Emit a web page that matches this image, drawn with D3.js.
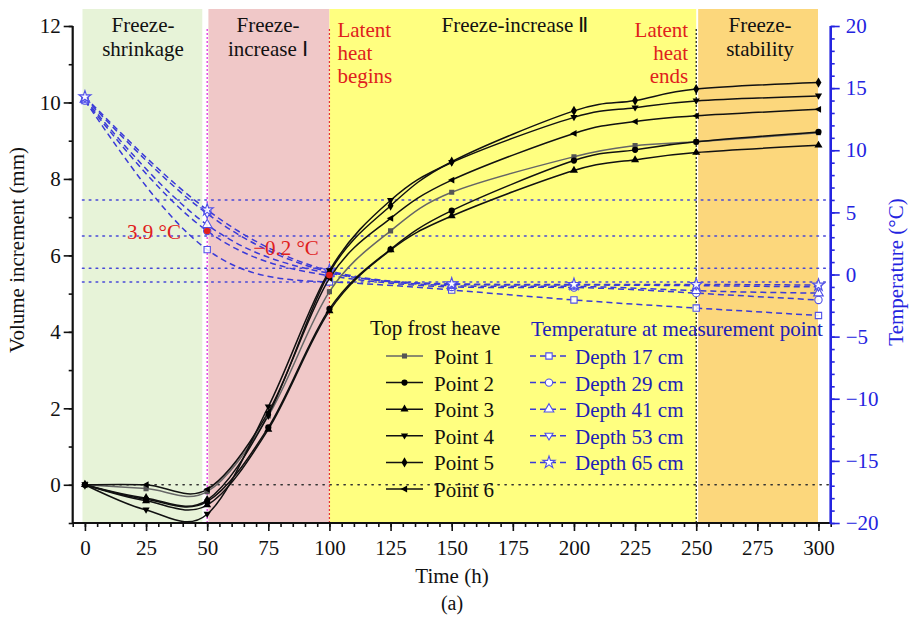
<!DOCTYPE html>
<html><head><meta charset="utf-8">
<script src="https://cdn.jsdelivr.net/npm/d3@7"></script>
<style>body{margin:0;background:#fff}svg{display:block}text{font-family:"Liberation Serif","Times New Roman",Times,serif}</style>
</head><body>
<svg id="c" width="909" height="620"></svg>
<script>
// ---------- data ----------
const heaveTimes = [0, 25, 50, 75, 100, 125, 150, 200, 225, 250, 300];
const point1 = [0, -0.10, -0.18, 1.80, 5.05, 6.64, 7.65, 8.58, 8.87, 8.97, 9.21];
const point2 = [0, -0.38, -0.44, 1.50, 4.60, 6.16, 7.17, 8.48, 8.76, 8.97, 9.23];
const point3 = [0, -0.42, -0.53, 1.45, 4.55, 6.14, 7.03, 8.22, 8.50, 8.69, 8.88];
const point4 = [0, -0.66, -0.77, 2.04, 5.60, 7.44, 8.43, 9.61, 9.86, 10.04, 10.17];
const point5 = [0, -0.35, -0.40, 1.83, 5.55, 7.30, 8.45, 9.78, 10.05, 10.35, 10.52];
const point6 = [0, 0.00, -0.12, 1.90, 5.40, 6.97, 7.97, 9.19, 9.50, 9.65, 9.82];
const heaveNames = ["Point 1", "Point 2", "Point 3", "Point 4", "Point 5", "Point 6"];

const tempTimes = [0, 50, 100, 150, 200, 250, 300];
const depth17 = [14.0, 2.0, -0.6, -1.25, -2.05, -2.7, -3.3];
const depth29 = [14.0, 3.5, -0.1, -1.0, -1.05, -1.5, -2.05];
const depth41 = [14.1, 4.0, 0.1, -0.9, -0.95, -1.3, -1.5];
const depth53 = [14.2, 4.9, 0.2, -0.8, -0.85, -0.9, -1.0];
const depth65 = [14.3, 5.2, 0.3, -0.75, -0.8, -0.8, -0.85];
const depthNames = ["Depth 17 cm", "Depth 29 cm", "Depth 41 cm", "Depth 53 cm", "Depth 65 cm"];

const stageNames = [["Freeze-", "shrinkage"], ["Freeze-", "increase \u2160"], ["Freeze-increase \u2161"], ["Freeze-", "stability"]];
const stageStart = [-1, 50.5, 100, 250.8];
const stageEnd = [48, 100, 250, 299.8];
const latentTimes = [50, 100, 250];
const refTemps = [6.0, 3.1, 0.5, -0.6];
const markTimes = [50, 100];
const markTemps = [3.5, -0.05];
const markLabels = ["3.9 \u00B0C", "\u22120.2 \u00B0C"];

const xTicks = [0, 25, 50, 75, 100, 125, 150, 175, 200, 225, 250, 275, 300];
const yTicks = [0, 2, 4, 6, 8, 10, 12];
const tTicks = [-20, -15, -10, -5, 0, 5, 10, 15, 20];

// ---------- setup ----------
const svg = d3.select("#c");
const L = 72.7, R = 830.7, T = 26, B = 523;
const x = d3.scaleLinear([-5, 305], [L, R]);
const y = d3.scaleLinear([-1, 12], [B, T]);
const yT = d3.scaleLinear([-20, 20], [B, T]);
const FS = 21;
const blue = "#2424e0", tblue = "#3a3ad8", red = "#e0201c";

// stage bands
const bandFill = ["#e7f3d8", "#f0c8c8", "#ffff80", "#fcd77c"];
svg.append("g").selectAll("rect").data(stageStart).join("rect")
  .attr("x", (d) => x(d)).attr("width", (d, i) => x(stageEnd[i]) - x(d))
  .attr("y", T - 17).attr("height", (d) => B - T + 17)
  .attr("fill", (d, i) => bandFill[i]);

// reference lines
svg.append("g").selectAll("line").data(refTemps).join("line")
  .attr("x1", x(-1)).attr("x2", R).attr("y1", (d) => yT(d)).attr("y2", (d) => yT(d))
  .attr("stroke", "#4848d8").attr("stroke-width", 1.6).attr("stroke-dasharray", "1.6,5.2").attr("stroke-linecap", "round");
svg.append("line").attr("x1", x(0)).attr("x2", R).attr("y1", y(0)).attr("y2", y(0))
  .attr("stroke", "#333").attr("stroke-width", 1.4).attr("stroke-dasharray", "1.4,5.6").attr("stroke-linecap", "round");
const vColors = ["#e020e0", "#e83030", "#111"];
svg.append("g").selectAll("line").data(latentTimes).join("line")
  .attr("x1", (d) => x(d)).attr("x2", (d) => x(d)).attr("y1", T + 3).attr("y2", B)
  .attr("stroke", (d, i) => vColors[i]).attr("stroke-width", 1.2).attr("stroke-dasharray", "2,2");

// clip
svg.append("clipPath").attr("id", "clip").append("rect").attr("x", L).attr("y", T - 17).attr("width", R - L).attr("height", B - T + 17);

// symbols
const sym = (type, size) => d3.symbol(type, size)();
const heaveSymbols = [
  sym(d3.symbolSquare, 26), sym(d3.symbolCircle, 30), sym(d3.symbolTriangle, 28),
  "M-3.6,-2.4L3.6,-2.4L0,3.8Z", sym(d3.symbolDiamond, 30), "M-3.8,0L2.6,-3.4L2.6,3.4Z"
];
const tempSymbols = [
  sym(d3.symbolSquare, 40), sym(d3.symbolCircle, 42), sym(d3.symbolTriangle, 40),
  "M-4,-2.6L4,-2.6L0,4.2Z", sym(d3.symbolStar, 46)
];

// temperature curves
const tempSeries = [depth17, depth29, depth41, depth53, depth65];
const tLine = d3.line().x((d, i) => x(tempTimes[i])).y((d) => yT(d)).curve(d3.curveNatural);
const gT = svg.append("g").attr("clip-path", "url(#clip)");
tempSeries.forEach((s, k) => {
  gT.append("path").attr("d", tLine(s)).attr("fill", "none").attr("stroke", tblue)
    .attr("stroke-width", 1.5).attr("stroke-dasharray", "6,4");
});
tempSeries.forEach((s, k) => {
  gT.append("g").selectAll("path").data(s).join("path")
    .attr("d", tempSymbols[k]).attr("transform", (d, i) => `translate(${x(tempTimes[i])},${yT(d)})`)
    .attr("fill", "#fff").attr("fill-opacity", 0.85).attr("stroke", "#5050e8").attr("stroke-width", 1.1);
});

// heave curves
const heaveSeries = [point1, point2, point3, point4, point5, point6];
const hColors = ["#666", "#111", "#111", "#111", "#111", "#111"];
const hLine = d3.line().x((d, i) => x(heaveTimes[i])).y((d) => y(d)).curve(d3.curveCardinal.tension(0));
const gH = svg.append("g").attr("clip-path", "url(#clip)");
heaveSeries.forEach((s, k) => {
  gH.append("path").attr("d", hLine(s)).attr("fill", "none").attr("stroke", hColors[k]).attr("stroke-width", 1.5);
});
heaveSeries.forEach((s, k) => {
  gH.append("g").selectAll("path").data(s).join("path")
    .attr("d", heaveSymbols[k]).attr("transform", (d, i) => `translate(${x(heaveTimes[i])},${y(d)})`)
    .attr("fill", hColors[k] === "#666" ? "#555" : "#000");
});

// red marks
svg.append("g").selectAll("circle").data(markTemps).join("circle")
  .attr("cx", (d, i) => x(markTimes[i])).attr("cy", (d) => yT(d)).attr("r", 3.3).attr("fill", red);
const markPos = [[154, 239], [286, 255]];
svg.append("g").selectAll("text").data(markLabels).join("text")
  .attr("x", (d, i) => markPos[i][0]).attr("y", (d, i) => markPos[i][1])
  .attr("text-anchor", "middle").attr("font-size", FS).attr("fill", red).text((d) => d);

// stage labels
const stageX = [143, 268, 515, 760];
stageNames.forEach((lines, i) => {
  const t = svg.append("text").attr("text-anchor", "middle").attr("font-size", FS).attr("fill", "#111");
  lines.forEach((ln, j) => t.append("tspan").attr("x", stageX[i]).attr("y", 31.5 + j * 24).text(ln));
});
const lat1 = svg.append("text").attr("font-size", FS).attr("fill", red);
["Latent", "heat", "begins"].forEach((ln, j) => lat1.append("tspan").attr("x", x(100) + 8).attr("y", 37 + j * 23).text(ln));
const lat2 = svg.append("text").attr("font-size", FS).attr("fill", red).attr("text-anchor", "end");
["Latent", "heat", "ends"].forEach((ln, j) => lat2.append("tspan").attr("x", x(250) - 8).attr("y", 37 + j * 23).text(ln));

// axes
const minorX = d3.range(-5, 306, 5), minorY = d3.range(-1, 12.01, 1), minorT = d3.range(-20, 20.01, 1);
function styleAxis(g, color) {
  g.attr("font-family", null);
  g.select(".domain").remove();
  g.selectAll("line").attr("stroke", color).attr("stroke-width", 1.6);
  g.selectAll("text").attr("font-size", FS).attr("fill", color);
}
const gx = svg.append("g").attr("transform", `translate(0,${B})`);
gx.append("g").call(d3.axisBottom(x).tickValues(minorX).tickSize(4).tickFormat("")).call(styleAxis, "#111");
gx.append("g").call(d3.axisBottom(x).tickValues(xTicks).tickSize(8).tickPadding(9).tickFormat(d3.format("d"))).call(styleAxis, "#111");
gx.append("line").attr("x1", L).attr("x2", R).attr("stroke", "#111").attr("stroke-width", 2.2);

const gy = svg.append("g").attr("transform", `translate(${L},0)`);
gy.append("g").call(d3.axisLeft(y).tickValues(minorY).tickSize(4).tickFormat("")).call(styleAxis, "#111");
gy.append("g").call(d3.axisLeft(y).tickValues(yTicks).tickSize(9).tickPadding(3).tickFormat(d3.format("d"))).call(styleAxis, "#111");
gy.append("line").attr("y1", T).attr("y2", B + 1).attr("stroke", "#111").attr("stroke-width", 2.2);

const fmtT = (d) => (d < 0 ? "\u2212" + Math.abs(d) : "" + d);
const gr = svg.append("g").attr("transform", `translate(${R},0)`);
gr.append("g").call(d3.axisRight(yT).tickValues(minorT).tickSize(4).tickFormat("")).call(styleAxis, blue);
gr.append("g").call(d3.axisRight(yT).tickValues(tTicks).tickSize(9).tickPadding(6).tickFormat(fmtT)).call(styleAxis, blue);
gr.append("line").attr("y1", T).attr("y2", B + 1).attr("stroke", blue).attr("stroke-width", 2.6);

// axis titles
svg.append("text").attr("transform", "translate(24,250) rotate(-90)").attr("text-anchor", "middle")
  .attr("font-size", FS).attr("fill", "#111").text("Volume increment (mm)");
svg.append("text").attr("transform", "translate(903,272) rotate(-90)").attr("text-anchor", "middle")
  .attr("font-size", FS).attr("fill", blue).text("Temperature (\u00B0C)");
svg.append("text").attr("x", 452).attr("y", 583).attr("text-anchor", "middle").attr("font-size", FS).attr("fill", "#111").text("Time (h)");
svg.append("text").attr("x", 452).attr("y", 610).attr("text-anchor", "middle").attr("font-size", FS - 1).attr("fill", "#111").text("(a)");

// legends
const lg = svg.append("g");
lg.append("text").attr("x", 370).attr("y", 335).attr("font-size", FS).attr("fill", "#111").text("Top frost heave");
heaveNames.forEach((n, i) => {
  const yy = 364 + i * 26.6;
  lg.append("line").attr("x1", 386).attr("x2", 423).attr("y1", yy - 8).attr("y2", yy - 8).attr("stroke", hColors[i]).attr("stroke-width", 1.5);
  lg.append("path").attr("d", heaveSymbols[i]).attr("transform", `translate(404.5,${yy - 8})`).attr("fill", hColors[i] === "#666" ? "#555" : "#000");
  lg.append("text").attr("x", 434).attr("y", yy).attr("font-size", FS).attr("fill", "#111").text(n);
});
lg.append("text").attr("x", 531).attr("y", 336).attr("font-size", FS).attr("fill", "#2020b8").text("Temperature at measurement point");
depthNames.forEach((n, i) => {
  const yy = 364 + i * 26.6;
  lg.append("line").attr("x1", 530).attr("x2", 569).attr("y1", yy - 8).attr("y2", yy - 8).attr("stroke", tblue).attr("stroke-width", 1.5).attr("stroke-dasharray", "6,4");
  lg.append("path").attr("d", tempSymbols[i]).attr("transform", `translate(549,${yy - 8})`).attr("fill", "#fff").attr("stroke", "#5050e8").attr("stroke-width", 1.1);
  lg.append("text").attr("x", 575).attr("y", yy).attr("font-size", FS).attr("fill", "#2020b8").text(n);
});
</script>
</body></html>
